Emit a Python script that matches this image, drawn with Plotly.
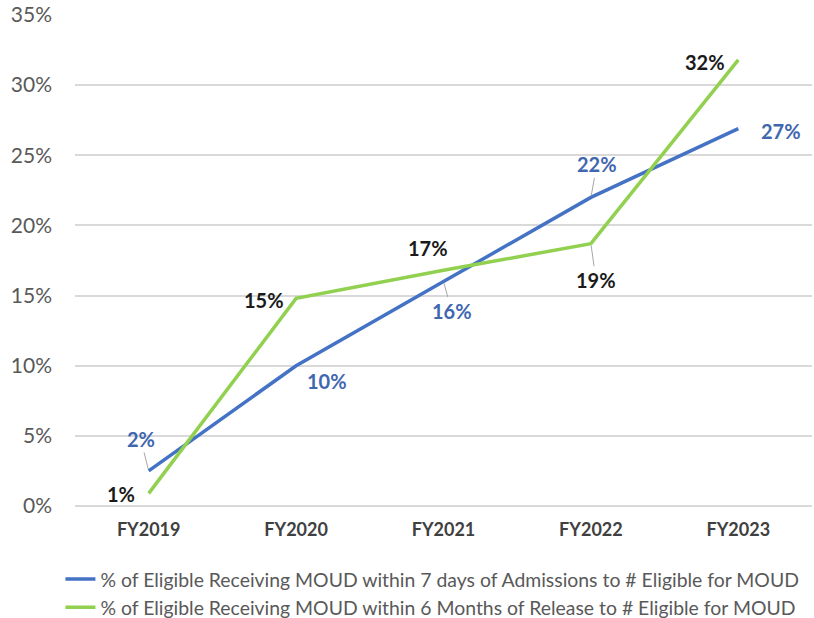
import plotly.graph_objects as go

categories = ["FY2019", "FY2020", "FY2021", "FY2022", "FY2023"]
admission_vals = [2.5, 10.0, 16.0, 22.0, 26.9]
release_vals = [0.9, 14.8, 16.8, 18.7, 31.8]
admission_labels = ["2%", "10%", "16%", "22%", "27%"]
release_labels = ["1%", "15%", "17%", "19%", "32%"]
series_names = [
    "% of Eligible Receiving MOUD within 7 days of Admissions to # Eligible for MOUD",
    "% of Eligible Receiving MOUD within 6 Months of Release to # Eligible for MOUD",
]
y_ticks = [0, 5, 10, 15, 20, 25, 30, 35]
y_tick_text = [f"{v}%" for v in y_ticks]

BLUE = "#4472C4"
GREEN = "#92D050"
BLUE_TXT = "#3F67B0"
BLACK_TXT = "#1A1A1A"
FONT = "Lato, 'Open Sans', sans-serif"

fig = go.Figure()
fig.add_trace(go.Scatter(x=categories, y=admission_vals, mode="lines", name=series_names[0],
                         line=dict(color=BLUE, width=3.5)))
fig.add_trace(go.Scatter(x=categories, y=release_vals, mode="lines", name=series_names[1],
                         line=dict(color=GREEN, width=3.5)))

# label placement: (arrow?, dx, dy) in pixels; dy positive = down
blue_place = [(True, -8, -32), (False, 31, 15), (True, 8, 29), (True, 6, -33), (False, 43, 2)]
green_place = [(False, -28, 1), (False, -32, 2), (False, -16, -22), (True, 5, 36), (False, -33, 2)]

def add_labels(vals, labels, places, color):
    for c, v, t, (arrow, dx, dy) in zip(categories, vals, labels, places):
        if arrow:
            fig.add_annotation(x=c, y=v, text=f"<b>{t}</b>", showarrow=True, ax=dx, ay=dy,
                               arrowhead=0, arrowwidth=1, arrowcolor="#A6A6A6", standoff=2,
                               font=dict(family=FONT, size=20, color=color))
        else:
            fig.add_annotation(x=c, y=v, text=f"<b>{t}</b>", showarrow=False,
                               xshift=dx, yshift=-dy,
                               font=dict(family=FONT, size=20, color=color))

add_labels(admission_vals, admission_labels, blue_place, BLUE_TXT)
add_labels(release_vals, release_labels, green_place, BLACK_TXT)

fig.update_layout(
    width=814, height=618,
    margin=dict(l=75, r=2, t=15, b=112, autoexpand=False),
    paper_bgcolor="white", plot_bgcolor="white",
    font=dict(family=FONT, color="#595959"),
    showlegend=True,
    legend=dict(orientation="v", x=0.485, xanchor="center", y=-0.11, yanchor="top",
                font=dict(family=FONT, size=19.4, color="#595959"),
                itemwidth=30, tracegroupgap=0),
    xaxis=dict(type="category", range=[-0.5, 4.5], showgrid=False, showline=False,
               automargin=False,
               ticks="", tickfont=dict(family=FONT, size=18, color="#404040"),
               ticklabelstandoff=11),
    yaxis=dict(range=[0, 35], tickvals=y_ticks, ticktext=y_tick_text,
               automargin=False,
               showgrid=True, gridcolor="#D9D9D9", gridwidth=1.5,
               zeroline=True, zerolinecolor="#D9D9D9", zerolinewidth=1.5,
               showline=False, ticks="", tickfont=dict(family=FONT, size=21, color="#595959"),
               ticklabelstandoff=22),
)
fig.update_xaxes(tickprefix="<b>", ticksuffix="</b>")

fig.write_html("out.html", config={"displayModeBar": False},
               post_script="document.body.style.margin='0';document.body.style.padding='0';")
